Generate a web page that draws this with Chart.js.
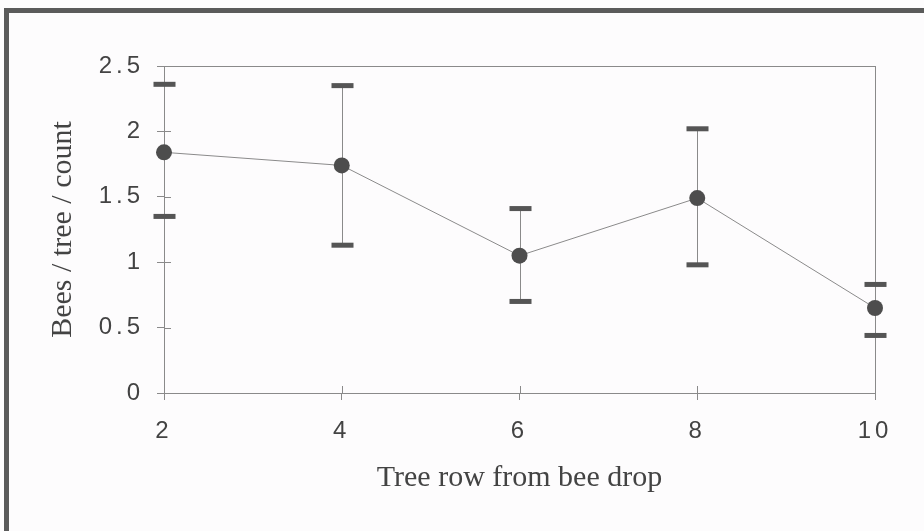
<!DOCTYPE html>
<html>
<head>
<meta charset="utf-8">
<script src="https://cdn.jsdelivr.net/npm/chart.js@4.4.1/dist/chart.umd.min.js"></script>
<style>
  html, body { margin: 0; padding: 0; background: #fdfcfd; overflow: hidden; }
  #quadro { position: absolute; left: 4px; top: 8px; width: 960px; height: 560px;
            border-top: 5px solid #5b5b5b; border-left: 5px solid #5b5b5b; }
  #grafico_wrap { position: absolute; left: 0; top: 0; width: 924px; height: 531px; }
</style>
</head>
<body>
<div id="quadro"></div>
<div id="grafico_wrap"><canvas id="mychart_abelhas"></canvas></div>
<script>
const linhas = [2, 4, 6, 8, 10]
const abelhas_media = [1.84, 1.74, 1.05, 1.49, 0.65]
const erro_superior = [2.36, 2.35, 1.41, 2.02, 0.83]
const erro_inferior = [1.35, 1.13, 0.70, 0.98, 0.44]

const cinza = '#8a8a8a'
const cinza_escuro = '#4d4d4d'
const texto = '#434343'

// barras de erro, moldura do gráfico e marcas de tick para dentro
const barras_erro = {
    id: 'barras_erro',
    beforeDatasetsDraw(chart) {
        const { ctx, chartArea, scales: { x, y } } = chart
        ctx.save()
        ctx.strokeStyle = cinza
        ctx.lineWidth = 1
        ctx.strokeRect(chartArea.left + 0.5, chartArea.top + 0.5,
            chartArea.right - chartArea.left, chartArea.bottom - chartArea.top)

        ctx.beginPath()
        y.ticks.forEach(t => {
            const py = Math.round(y.getPixelForValue(t.value)) + 0.5
            ctx.moveTo(chartArea.left, py)
            ctx.lineTo(chartArea.left + 7, py)
        })
        x.ticks.forEach(t => {
            const px = Math.round(x.getPixelForValue(t.value)) + 0.5
            ctx.moveTo(px, chartArea.bottom)
            ctx.lineTo(px, chartArea.bottom - 7)
        })
        ctx.stroke()

        linhas.forEach((linha, i) => {
            const px = Math.round(x.getPixelForValue(linha)) + 0.5
            const topo = y.getPixelForValue(erro_superior[i])
            const base = y.getPixelForValue(erro_inferior[i])
            ctx.strokeStyle = cinza
            ctx.beginPath()
            ctx.moveTo(px, topo)
            ctx.lineTo(px, base)
            ctx.stroke()
            ctx.fillStyle = '#555'
            ctx.fillRect(px - 11, topo - 2.5, 22, 5)
            ctx.fillRect(px - 11, base - 2.5, 22, 5)
        })
        ctx.restore()
    },
    afterDatasetsDraw(chart) {
        chart.ctx.letterSpacing = '4px'
    },
    afterDraw(chart) {
        chart.ctx.letterSpacing = '0px'
    }
}

const data = {
    datasets: [
        {
            label: 'Bees / tree / count',
            data: linhas.map((l, i) => ({ x: l, y: abelhas_media[i] })),
            borderColor: cinza,
            borderWidth: 1,
            pointRadius: 8,
            pointBackgroundColor: cinza_escuro,
            pointBorderWidth: 0,
            tension: 0,
            clip: false
        }
    ]
}

const config = {
    type: 'line',
    data: data,
    options: {
        responsive: true,
        maintainAspectRatio: false,
        animation: false,
        layout: { padding: { left: 0, right: 49, top: 66, bottom: 0 } },
        plugins: { legend: { display: false }, tooltip: { enabled: false } },
        scales: {
            x: {
                type: 'linear',
                min: 2,
                max: 10,
                afterFit: s => { s.height = 138 },
                border: { color: cinza },
                grid: { drawOnChartArea: false, color: cinza, tickLength: 7 },
                ticks: {
                    stepSize: 2,
                    padding: 17,
                    z: 1,
                    color: texto,
                    font: { family: 'Liberation Sans', size: 24 }
                },
                title: {
                    display: true,
                    text: 'Tree row from bee drop',
                    color: texto,
                    padding: { top: 0, bottom: 35 },
                    font: { family: 'Liberation Serif', size: 30 }
                }
            },
            y: {
                min: 0,
                max: 2.5,
                afterFit: s => { s.width = 164 },
                border: { color: cinza },
                grid: { drawOnChartArea: false, color: cinza, tickLength: 7 },
                ticks: {
                    stepSize: 0.5,
                    padding: 13,
                    z: 1,
                    color: texto,
                    font: { family: 'Liberation Sans', size: 24 },
                    callback: v => String(v)
                },
                title: {
                    display: true,
                    text: 'Bees / tree / count',
                    color: texto,
                    padding: { top: 45, bottom: 0 },
                    font: { family: 'Liberation Serif', size: 30 }
                }
            }
        }
    },
    plugins: [barras_erro]
}

const myChart_abelhas = new Chart(
    document.querySelector('#mychart_abelhas'),
    config,
)
</script>
</body>
</html>
